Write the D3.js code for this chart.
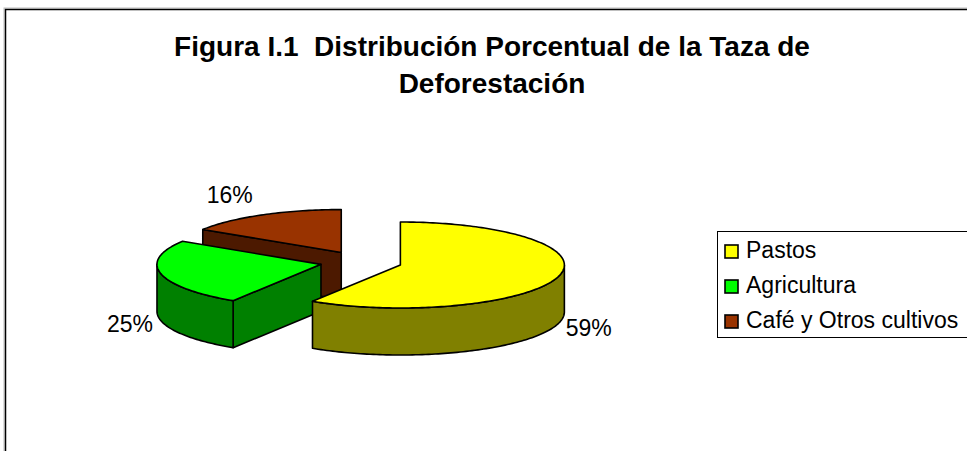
<!DOCTYPE html>
<html><head><meta charset="utf-8">
<script src="https://cdn.jsdelivr.net/npm/d3@7/dist/d3.min.js"></script>
<style>body{margin:0;background:#fff} svg{display:block} text{white-space:pre}</style>
</head><body>
<svg id="chart" width="967" height="451"></svg>
<script>
// ---- data ----
const categories = ["Pastos", "Agricultura", "Café y Otros cultivos"];
const values = [59, 25, 16];
const topColors = ["#FFFF00", "#00FF00", "#993300"];
const sideColors = ["#808000", "#008000", "#4C1900"];
const titleLines = ["Figura I.1  Distribución Porcentual de la Taza de", "Deforestación"];

// ---- layout ----
const FONT = "'Liberation Sans', Arial, Helvetica, sans-serif";
const svg = d3.select("#chart");
const cx = 361, cy = 262, rx = 164, ry = 43, depth = 47, explode = 0.25;

// outer frame
svg.append("rect").attr("x", 4).attr("y", 8).attr("width", 1100).attr("height", 600)
  .attr("fill", "none").attr("stroke", "#bbb").attr("stroke-width", 1);
svg.append("rect").attr("x", 5.5).attr("y", 9.5).attr("width", 1100).attr("height", 600)
  .attr("fill", "#fff").attr("stroke", "#000").attr("stroke-width", 1.5);

// title
const title = svg.append("text").attr("text-anchor", "middle")
  .attr("font-family", FONT).attr("font-weight", "bold").attr("font-size", 28).attr("fill", "#000");
titleLines.forEach((t, i) => {
  title.append("tspan").attr("x", 492).attr("y", 56 + i * 37).text(t);
});

// pie
const color = d3.scaleOrdinal().domain(categories).range(topColors);
const sideColor = d3.scaleOrdinal().domain(categories).range(sideColors);
const arcs = d3.pie().sort(null).value(d => d)(values).map((p, i) => {
  const m = (p.startAngle + p.endAngle) / 2;
  return Object.assign(p, {
    i, m, cat: categories[i],
    ox: cx + explode * rx * Math.sin(m),
    oy: cy - explode * ry * Math.cos(m)
  });
});

const P = (s, a, dz = 0, r = 1) => [s.ox + rx * r * Math.sin(a), s.oy - ry * r * Math.cos(a) + dz];
const line = d3.line();
const arcPts = (s, a0, a1, dz) => {
  const n = Math.max(2, Math.ceil((a1 - a0) / 0.02));
  return d3.range(n + 1).map(k => P(s, a0 + (a1 - a0) * k / n, dz));
};

const g = svg.append("g").attr("stroke", "#000").attr("stroke-width", 1.6).attr("stroke-linejoin", "round");
const order = arcs.slice().sort((a, b) => a.oy - b.oy);

order.forEach(s => {
  const a0 = s.startAngle, a1 = s.endAngle;
  const O = [s.ox, s.oy], Od = [s.ox, s.oy + depth];
  // radial cut faces
  if (Math.sin(a0) < -1e-6) {
    const p = P(s, a0), pd = P(s, a0, depth);
    g.append("path").attr("d", line([O, p, pd, Od]) + "Z").attr("fill", sideColor(s.cat));
  }
  if (Math.sin(a1) > 1e-6) {
    const p = P(s, a1), pd = P(s, a1, depth);
    g.append("path").attr("d", line([O, p, pd, Od]) + "Z").attr("fill", sideColor(s.cat));
  }
  // outer curved side (front half)
  const t0 = Math.max(a0, Math.PI / 2), t1 = Math.min(a1, 3 * Math.PI / 2);
  if (t1 > t0) {
    const pts = arcPts(s, t0, t1, 0).concat(arcPts(s, t0, t1, depth).reverse());
    g.append("path").attr("d", line(pts) + "Z").attr("fill", sideColor(s.cat));
  }
  // top face
  g.append("path").attr("d", line([O].concat(arcPts(s, a0, a1, 0))) + "Z").attr("fill", color(s.cat));
});

// percentage labels
const total = d3.sum(values);
svg.append("g").selectAll("text").data(arcs).join("text")
  .attr("font-family", FONT).attr("font-size", 23).attr("fill", "#000")
  .attr("text-anchor", d => Math.sin(d.m) > 0 ? "start" : "end")
  .attr("x", d => P(d, d.m, 0, Math.cos(d.m) < 0 ? 1.05 : 1.12)[0])
  .attr("y", d => {
    const front = Math.cos(d.m) < 0;
    return P(d, d.m, front ? depth : 0, 1.05)[1] + (front ? 11 : -10);
  })
  .text(d => Math.round(d.data / total * 100) + "%");

// legend
const lg = svg.append("g");
lg.append("rect").attr("x", 717.5).attr("y", 231.5).attr("width", 400).attr("height", 106)
  .attr("fill", "#fff").attr("stroke", "#000").attr("stroke-width", 1);
const items = lg.selectAll("g.item").data(categories).join("g").attr("class", "item")
  .attr("transform", (d, i) => `translate(0,${258 + i * 35})`);
items.append("rect").attr("x", 725).attr("y", -13).attr("width", 13).attr("height", 13)
  .attr("fill", d => color(d)).attr("stroke", "#000").attr("stroke-width", 1.6);
items.append("text").attr("x", 746).attr("y", 0)
  .attr("font-family", FONT).attr("font-size", 23).attr("fill", "#000").text(d => d);
</script>
</body></html>
